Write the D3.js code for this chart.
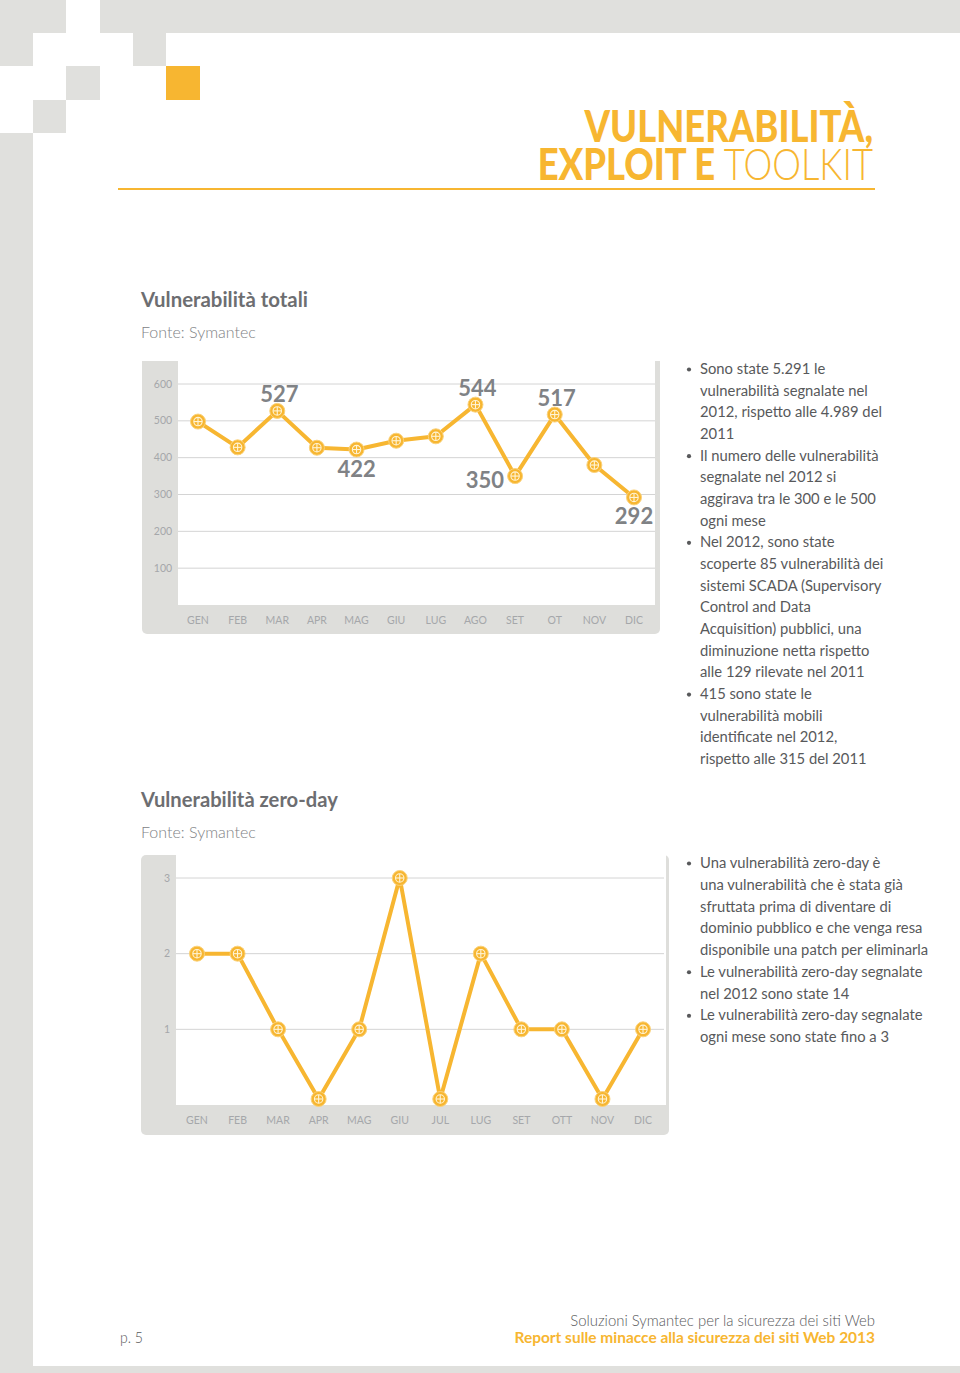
<!DOCTYPE html>
<html><head><meta charset="utf-8">
<script src="https://cdn.jsdelivr.net/npm/d3@7"></script>
<style>html,body{margin:0;padding:0;background:#fff}svg{display:block}</style>
</head><body>
<svg id="page" width="960" height="1373"></svg>
<script>
// ---------- DATA ----------
const months1 = ["GEN","FEB","MAR","APR","MAG","GIU","LUG","AGO","SET","OT","NOV","DIC"];
const totals = [498,428,527,427,422,446,458,544,350,517,380,292];
const totalsLabelPos = ["","","above","","below","","","above","left","above","","below"];
const yTicks1 = [100,200,300,400,500,600];

const months2 = ["GEN","FEB","MAR","APR","MAG","GIU","JUL","LUG","SET","OTT","NOV","DIC"];
const zeroDay = [2,2,1,0,1,3,0,2,1,1,0,1];
const yTicks2 = [1,2,3];

const bullets1 = [
  ["Sono state 5.291 le","vulnerabilità segnalate nel","2012, rispetto alle 4.989 del","2011"],
  ["Il numero delle vulnerabilità","segnalate nel 2012 si","aggirava tra le 300 e le 500","ogni mese"],
  ["Nel 2012, sono state","scoperte 85 vulnerabilità dei","sistemi SCADA (Supervisory","Control and Data","Acquisition) pubblici, una","diminuzione netta rispetto","alle 129 rilevate nel 2011"],
  ["415 sono state le","vulnerabilità mobili","identificate nel 2012,","rispetto alle 315 del 2011"]
];
const bullets2 = [
  ["Una vulnerabilità zero-day è","una vulnerabilità che è stata già","sfruttata prima di diventare di","dominio pubblico e che venga resa","disponibile una patch per eliminarla"],
  ["Le vulnerabilità zero-day segnalate","nel 2012 sono state 14"],
  ["Le vulnerabilità zero-day segnalate","ogni mese sono state fino a 3"]
];

// ---------- STYLE ----------
const YEL = "#f7b631", FRAME = "#e0e0dd", PANEL = "#dededb", GRID = "#d4d4d4";
const FONT = "Lato, 'Open Sans', sans-serif";
const svg = d3.select("#page");

// frame decoration
const frameRects = [[0,0,66,33],[100,0,860,33],[0,33,33,33],[133,33,33,33],[66,66,34,34],[33,100,33,33],[0,133,33,1240],[33,1366,927,7]];
svg.selectAll("rect.frame").data(frameRects).join("rect").attr("class","frame")
  .attr("x",d=>d[0]).attr("y",d=>d[1]).attr("width",d=>d[2]).attr("height",d=>d[3]).attr("fill",FRAME);
svg.append("rect").attr("x",166).attr("y",66).attr("width",34).attr("height",34).attr("fill",YEL);

// helper: text horizontally fitted to a width
function fitText(parent, x, y, target, anchor, build){
  const g = parent.append("g");
  const t = g.append("text").attr("text-anchor",anchor);
  build(t);
  const w = t.node().getComputedTextLength();
  const s = target / w;
  g.attr("transform",`translate(${x},${y}) scale(${s},1)`);
  return g;
}

// title (one text element, two lines)
{
  const g = svg.append("g");
  const t = g.append("text").attr("text-anchor","end").attr("font-family",FONT).attr("font-size",44).attr("fill",YEL);
  const l1 = t.append("tspan").attr("x",0).attr("y",0).attr("font-weight",900).text("VULNERABILITÀ,");
  const l2 = t.append("tspan").attr("x",0).attr("y",38);
  l2.append("tspan").attr("font-weight",900).text("EXPLOIT E ");
  l2.append("tspan").attr("font-weight",300).text("TOOLKIT");
  const w1 = l1.node().getComputedTextLength();
  const w2 = l2.node().getComputedTextLength();
  const s = (291 + 333) / (w1 + w2);
  g.attr("transform",`translate(873,142) scale(${s},1)`);
}
svg.append("line").attr("x1",118).attr("x2",875).attr("y1",189).attr("y2",189).attr("stroke",YEL).attr("stroke-width",2);

// section headings
function heading(y1, y2, title, w){
  fitText(svg, 141, y1, w, "start", t => t.attr("font-family",FONT).attr("font-weight",700).attr("font-size",20).attr("fill","#6d6e71").text(title));
  fitText(svg, 141, y2, 115, "start", t => t.attr("font-family",FONT).attr("font-weight",300).attr("font-size",16).attr("fill","#808285").text("Fonte: Symantec"));
}
heading(307, 338, "Vulnerabilità totali", 167);
heading(807, 838, "Vulnerabilità zero-day", 197);

// marker
function marker(g, x, y){
  const m = g.append("g").attr("transform",`translate(${x},${y})`);
  m.append("circle").attr("r",7.5).attr("fill",YEL).attr("stroke","#fbd27a").attr("stroke-width",1);
  m.append("circle").attr("r",4.2).attr("fill","none").attr("stroke","#fff4d6").attr("stroke-width",1.1);
  m.append("line").attr("x1",-4).attr("x2",4).attr("stroke","#fff4d6").attr("stroke-width",1.1);
  m.append("line").attr("y1",-4).attr("y2",4).attr("stroke","#fff4d6").attr("stroke-width",1.1);
}

// ---------- CHART 1 ----------
{
  const P = {x:142,y:361,w:518,h:273, px:178, pw:477, ph:244};
  const g = svg.append("g");
  g.append("rect").attr("x",P.x).attr("y",P.y).attr("width",P.w).attr("height",P.h).attr("rx",5).attr("fill",PANEL);
  g.append("rect").attr("x",P.x).attr("y",P.y).attr("width",P.w).attr("height",10).attr("fill",PANEL);
  g.append("rect").attr("x",P.px).attr("y",P.y).attr("width",P.pw).attr("height",P.ph).attr("fill","#fff");
  const x = d3.scalePoint().domain(months1).range([198,634]);
  const y = d3.scaleLinear().domain([0,600]).range([605,384]);
  g.selectAll("line.grid").data(yTicks1).join("line").attr("class","grid")
    .attr("x1",P.px).attr("x2",P.px+P.pw).attr("y1",d=>y(d)).attr("y2",d=>y(d)).attr("stroke",GRID).attr("stroke-width",1);
  g.selectAll("text.yt").data(yTicks1).join("text").attr("class","yt")
    .attr("x",163).attr("y",d=>y(d)+3.5).attr("text-anchor","middle").attr("font-family",FONT).attr("font-size",10.5).attr("fill","#a5a7aa").text(d=>d);
  g.selectAll("text.xt").data(months1).join("text").attr("class","xt")
    .attr("x",d=>x(d)).attr("y",624).attr("text-anchor","middle").attr("font-family",FONT).attr("font-size",10.5).attr("fill","#a5a7aa").text(d=>d);
  const line = d3.line().x((d,i)=>x(months1[i])).y(d=>y(d));
  g.append("path").datum(totals).attr("d",line).attr("fill","none").attr("stroke",YEL).attr("stroke-width",4).attr("stroke-linejoin","round");
  totals.forEach((v,i)=>marker(g, x(months1[i]), y(v)));
  totals.forEach((v,i)=>{
    const p = totalsLabelPos[i]; if(!p) return;
    let lx = x(months1[i]), ly = y(v), anchor="middle";
    if(p==="above"){ ly -= 9; lx += 2; }
    else if(p==="below"){ ly += 27; }
    else if(p==="left"){ lx -= 11; ly += 12; anchor="end"; }
    g.append("text").attr("x",lx).attr("y",ly).attr("text-anchor",anchor).attr("font-family",FONT).attr("font-weight",700)
      .attr("font-size",22).attr("fill","#808285").text(v);
  });
}

// ---------- CHART 2 ----------
{
  const P = {x:141,y:855,w:528,h:280, px:176, pw:490, ph:250};
  const g = svg.append("g");
  g.append("rect").attr("x",P.x).attr("y",P.y).attr("width",P.w).attr("height",P.h).attr("rx",5).attr("fill",PANEL);
  g.append("rect").attr("x",P.px).attr("y",P.y).attr("width",P.pw).attr("height",P.ph).attr("fill","#fff");
  const x = d3.scalePoint().domain(months2).range([197,643]);
  const y = d3.scaleLinear().domain([0,3]).range([1105,878]);
  const yc = v => Math.min(y(v), 1099);
  g.selectAll("line.grid").data(yTicks2).join("line").attr("class","grid")
    .attr("x1",P.px).attr("x2",P.px+P.pw-2).attr("y1",d=>y(d)).attr("y2",d=>y(d)).attr("stroke",GRID).attr("stroke-width",1);
  g.selectAll("text.yt").data(yTicks2).join("text").attr("class","yt")
    .attr("x",167).attr("y",d=>y(d)+3.5).attr("text-anchor","middle").attr("font-family",FONT).attr("font-size",10.5).attr("fill","#a5a7aa").text(d=>d);
  g.selectAll("text.xt").data(months2).join("text").attr("class","xt")
    .attr("x",d=>x(d)).attr("y",1124).attr("text-anchor","middle").attr("font-family",FONT).attr("font-size",10.5).attr("fill","#a5a7aa").text(d=>d);
  const line = d3.line().x((d,i)=>x(months2[i])).y(d=>yc(d));
  g.append("path").datum(zeroDay).attr("d",line).attr("fill","none").attr("stroke",YEL).attr("stroke-width",4).attr("stroke-linejoin","round");
  zeroDay.forEach((v,i)=>marker(g, x(months2[i]), yc(v)));
}

// ---------- BULLET TEXT ----------
const probe = svg.append("text").attr("font-family",FONT).attr("font-size",15).text("vulnerabilità segnalate nel");
const bodyScale = 168 / probe.node().getComputedTextLength();
probe.remove();
function bulletBlock(groups, yCenter0, step){
  let k = 0;
  groups.forEach(lines=>{
    lines.forEach((ln,j)=>{
      const cy = yCenter0 + k*step;
      if(j===0) svg.append("circle").attr("cx",689).attr("cy",cy+0.5).attr("r",2.1).attr("fill","#58595b");
      svg.append("g").attr("transform",`translate(700,${cy+5}) scale(${bodyScale},1)`)
        .append("text").attr("font-family",FONT).attr("font-size",15).attr("fill","#58595b").text(ln);
      k++;
    });
  });
}
bulletBlock(bullets1, 369, 21.67);
bulletBlock(bullets2, 863, 21.75);

// ---------- FOOTER ----------
fitText(svg, 875, 1326, 305, "end", t => t.attr("font-family",FONT).attr("font-weight",300).attr("font-size",15.5).attr("fill","#58595b").text("Soluzioni Symantec per la sicurezza dei siti Web"));
fitText(svg, 875, 1343, 361, "end", t => t.attr("font-family",FONT).attr("font-weight",700).attr("font-size",15.5).attr("fill",YEL).text("Report sulle minacce alla sicurezza dei siti Web 2013"));
fitText(svg, 120, 1343, 23, "start", t => t.attr("font-family",FONT).attr("font-weight",300).attr("font-size",15.5).attr("fill","#58595b").text("p. 5"));
</script>
</body></html>
